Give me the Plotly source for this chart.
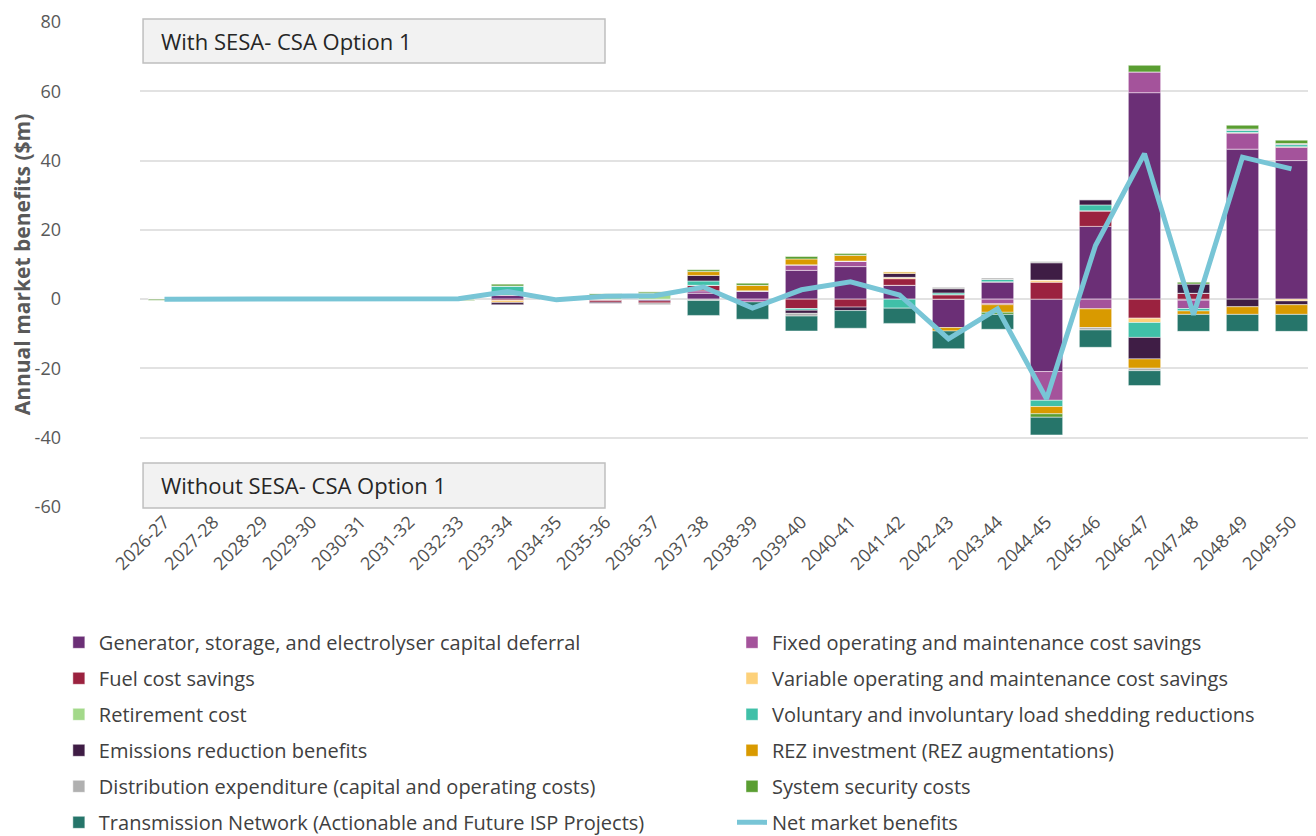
import plotly.graph_objects as go

categories = ["2026-27", "2027-28", "2028-29", "2029-30", "2030-31", "2031-32", "2032-33",
              "2033-34", "2034-35", "2035-36", "2036-37", "2037-38", "2038-39", "2039-40",
              "2040-41", "2041-42", "2042-43", "2043-44", "2044-45", "2045-46", "2046-47",
              "2047-48", "2048-49", "2049-50"]

generator_capital = [0.3, 0.1, 0.1, 0.1, 0.1, 0.1, 0.0, 1.2, 0.0, -0.4, -0.5, 1.7, 2.4, 8.3,
                     9.4, 4.0, -8.2, 5.0, -20.9, 21.0, 59.6, -0.3, 43.3, 40.0]
fixed_om = [0, 0, 0, 0, 0, 0, 0, 0, 0, 0, 0, 0.7, -0.8, 1.6,
            1.6, 0, 0, -1.3, -8.3, -2.8, 6.0, -2.4, 4.6, 3.8]
fuel_cost = [0, 0, 0, 0, 0, 0, 0, -0.4, 0, -0.5, -0.6, 1.6, 0, -2.7,
             -2.3, 1.9, 1.3, -0.3, 4.9, 4.5, -5.5, 1.7, 0.2, 0.2]
variable_om = [0, 0, 0, 0, 0, 0, 0, -0.6, 0, 0, 0, 0, 0, 0,
               0, 0.4, 0, 0, 0.6, 0, -1.25, 0, 0, -0.5]
retirement = [0, 0, 0, 0, 0, 0, 0, 0, 0, 1.2, 1.6, 0, 0, 0,
              0, 0, 0, 0, 0, 0, 0, 0, 0, 0]
load_shedding = [0, 0, 0, 0, 0, 0, 0, 2.6, 0, 0, 0, 1.25, 0, -0.5,
                 0, -2.6, 0.5, 0.7, -1.8, 1.7, -4.3, -0.7, 0.6, 0.6]
emissions = [0.2, 0, 0, 0, 0, 0, 0, -0.6, 0, -0.3, 0, 1.6, 0, -0.9,
             -1.0, 1.1, 1.2, 0, 5.0, 1.5, -6.2, 2.7, -2.2, -1.1]
rez_investment = [0, 0, 0, 0, 0, 0, 0, 0, 0, 0, 0, 1.1, 1.6, 1.7,
                  1.7, 0.5, -1.0, -2.2, -2.1, -5.4, -2.7, -1.0, -2.2, -2.8]
distribution = [0, 0, 0, 0, 0, 0, 0, 0, 0, 0, -0.5, -0.4, 0, -0.8,
                0, 0, 0.5, 0.4, 0.4, -0.7, -0.7, 0, 0.4, 0.3]
system_security = [-0.3, 0, 0, 0, 0, 0, -0.4, 0.6, 0, 0.4, 0.5, 0.5, 0.6, 0.7,
                   0.5, 0, 0, -0.6, -1.0, 0, 1.9, 0.5, 1.1, 1.0]
transmission = [0, 0, 0, 0, 0, 0, 0, 0, 0, 0, 0, -4.3, -5.0, -4.3,
                -5.1, -4.4, -5.1, -4.3, -5.1, -5.0, -4.3, -4.9, -4.9, -4.9]
net_benefits = [0.0, 0.0, 0.0, 0.0, 0.0, 0.0, 0.1, 2.2, -0.2, 0.8, 1.0, 3.5, -2.6, 2.7,
                5.0, 1.2, -11.5, -2.8, -28.8, 15.5, 42.0, -4.5, 41.0, 37.6]
y_ticks = [-60, -40, -20, 0, 20, 40, 60, 80]

series = [
    ("Generator, storage, and electrolyser capital deferral", generator_capital, "#6b2f76", "legend"),
    ("Fixed operating and maintenance cost savings", fixed_om, "#a4539b", "legend2"),
    ("Fuel cost savings", fuel_cost, "#9b223f", "legend"),
    ("Variable operating and maintenance cost savings", variable_om, "#fdd17a", "legend2"),
    ("Retirement cost", retirement, "#a3d98a", "legend"),
    ("Voluntary and involuntary load shedding reductions", load_shedding, "#40c0a8", "legend2"),
    ("Emissions reduction benefits", emissions, "#3f1d45", "legend"),
    ("REZ investment (REZ augmentations)", rez_investment, "#d99a00", "legend2"),
    ("Distribution expenditure (capital and operating costs)", distribution, "#b0b0b0", "legend"),
    ("System security costs", system_security, "#5a9e32", "legend2"),
    ("Transmission Network (Actionable and Future ISP Projects)", transmission, "#26756a", "legend"),
]

fig = go.Figure()
for i, (name, vals, color, leg) in enumerate(series):
    fig.add_trace(go.Bar(
        x=categories, y=vals, name=name, legend=leg, legendgroup=f"g{i}",
        marker=dict(color=color, line=dict(color="rgba(255,255,255,0.6)", width=0.8)),
    ))

fig.add_trace(go.Scatter(
    x=categories, y=net_benefits, name="Net market benefits", mode="lines",
    legend="legend2", legendgroup="net",
    line=dict(color="#78c5d6", width=5),
))

font_family = "Open Sans, Lato, DejaVu Sans, sans-serif"
legend_common = dict(
    orientation="v", yanchor="top", xanchor="left",
    font=dict(family=font_family, size=20, color="#404040"),
    bgcolor="rgba(0,0,0,0)", tracegroupgap=7, traceorder="grouped",
)

fig.update_layout(
    width=1308, height=828,
    margin=dict(l=132, r=0, t=14, b=329, autoexpand=False),
    barmode="relative", bargap=0.34,
    plot_bgcolor="white", paper_bgcolor="white",
    font=dict(family=font_family, color="#595959"),
    legend=dict(x=-0.069, y=-0.2388, **legend_common),
    legend2=dict(x=0.5034, y=-0.2388, **legend_common),
    xaxis=dict(
        type="category", tickangle=-45, showgrid=False, zeroline=False,
        tickfont=dict(size=18, color="#505050"), showline=False,
    ),
    yaxis=dict(
        range=[-60, 80], tickvals=y_ticks, ticktext=[str(v) for v in y_ticks],
        showgrid=True, gridcolor="#e2e2e2", gridwidth=2,
        zeroline=True, zerolinecolor="#e2e2e2", zerolinewidth=2,
        tickfont=dict(size=18, color="#595959"), ticklabelstandoff=78,
        title=dict(text="<b>Annual market benefits ($m)</b>",
                   font=dict(size=21, color="#595959"), standoff=0),
    ),
)

boxes = [("With SESA- CSA Option 1", 1.006, 0.9155), ("Without SESA- CSA Option 1", 0.0907, -0.002)]
for text, top, bottom in boxes:
    fig.add_shape(type="rect", xref="paper", yref="paper", x0=0.0026, x1=0.3954, y0=bottom, y1=top,
                  fillcolor="#f2f2f2", line=dict(color="#bfbfbf", width=1.5), layer="above")
    fig.add_annotation(xref="paper", yref="paper", x=0.016, y=(top + bottom) / 2, text=text,
                       showarrow=False, xanchor="left", yanchor="middle",
                       font=dict(family=font_family, size=22, color="#262626"))

fig.write_html("out.html")
